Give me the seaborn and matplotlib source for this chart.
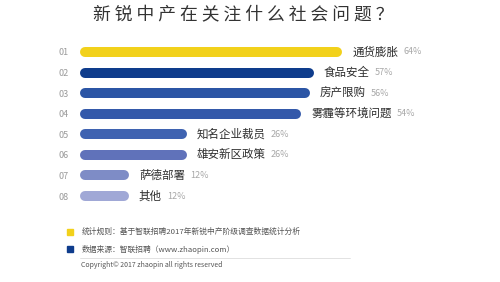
import matplotlib
matplotlib.use("Agg")
import matplotlib.pyplot as plt
import matplotlib.patches as mpatches
import seaborn as sns
import pandas as pd

# ── 数据 ──────────────────────────────────────────────────────────────
ranks  = ["01", "02", "03", "04", "05", "06", "07", "08"]
topics = ["通货膨胀", "食品安全", "房产限购", "雾霾等环境问题",
          "知名企业裁员", "雄安新区政策", "萨德部署", "其他"]
shares = [64, 57, 56, 54, 26, 26, 12, 12]
colors = ["#F2D11B", "#0E3C8C", "#2B55A5", "#3459AA",
          "#3F63B1", "#6072BA", "#7E8CC6", "#A0A8D6"]

title   = "新锐中产在关注什么社会问题？"
note1   = "统计规则：基于智联招聘2017年新锐中产阶级调查数据统计分析"
note2   = "数据来源：智联招聘（www.zhaopin.com）"
credit  = "Copyright© 2017 zhaopin all rights reserved"

sns.set_theme(style="white")
plt.rcParams["font.family"] = ["Noto Sans CJK SC", "DejaVu Sans"]

W, H = 500, 282
fig = plt.figure(figsize=(W / 100, H / 100), dpi=100)
fig.patch.set_facecolor("white")

# 轴区域（像素换算）
ax_left, ax_right = 80, 480
ax_top, ax_bot = 41.7, 206.3
ax = fig.add_axes([ax_left / W, 1 - ax_bot / H,
                   (ax_right - ax_left) / W, (ax_bot - ax_top) / H])
px_per_unit = 4.1
xmax = (ax_right - ax_left) / px_per_unit

df = pd.DataFrame({"rank": ranks, "share": shares, "topic": topics})
sns.barplot(data=df, x="share", y="rank", hue="rank", palette=colors,
            legend=False, orient="h", width=0.49, ax=ax)
ax.set_xlim(0, xmax)
ax.set_ylim(len(ranks) - 0.5, -0.5)

# 圆角条：用圆头线条替代矩形
bar_px = 10
r = (bar_px / 2) / px_per_unit
for p, c, topic, s in zip(ax.patches, colors, topics, shares):
    y = p.get_y() + p.get_height() / 2
    x1 = p.get_x() + p.get_width()
    p.set_visible(False)
    ax.plot([r, x1 - r], [y, y], color=c, lw=bar_px * 0.72,
            solid_capstyle="round")
    t = ax.annotate(topic, xy=(x1, y), xytext=(7, 0),
                    textcoords="offset points", va="center", ha="left",
                    fontsize=8.3, color="#2E2E2E")
    ax.annotate(f"{s}%", xy=(1, 0.5), xycoords=t, xytext=(4, 0),
                textcoords="offset points", va="center", ha="left",
                fontsize=6.5, color="#A8A8A8")

ax.set_xlabel("")
ax.set_ylabel("")
ax.set_xticks([])
ax.tick_params(axis="y", length=0, pad=8, labelsize=6.5, labelcolor="#9A9A9A")
sns.despine(ax=ax, left=True, bottom=True)
ax.set_facecolor("white")

# 标题
fig.text(0.486, 1 - 15 / H, " ".join(title), ha="center", va="center",
         fontsize=12.8, color="#333333",
         family=["Noto Sans CJK SC", "DejaVu Sans"])

# 注释
fig.patches.append(mpatches.Rectangle((67 / W, 1 - 235 / H), 6 / W, 6 / H,
                                      transform=fig.transFigure,
                                      color="#F2D11B"))
fig.patches.append(mpatches.Rectangle((67 / W, 1 - 252 / H), 6 / W, 6 / H,
                                      transform=fig.transFigure,
                                      color="#0E3C8C"))
fig.text(82 / W, 1 - 232 / H, note1, fontsize=5.6, color="#555555",
         va="center", ha="left")
fig.text(82 / W, 1 - 249 / H, note2, fontsize=5.6, color="#555555",
         va="center", ha="left")
fig.add_artist(plt.Line2D([80 / W, 350 / W], [1 - 258 / H, 1 - 258 / H],
                          transform=fig.transFigure, color="#DDDDDD", lw=0.6))
fig.text(81 / W, 1 - 265 / H, credit, fontsize=5, color="#555555",
         va="center", ha="left")

fig.savefig("out.png", dpi=100, facecolor="white")
